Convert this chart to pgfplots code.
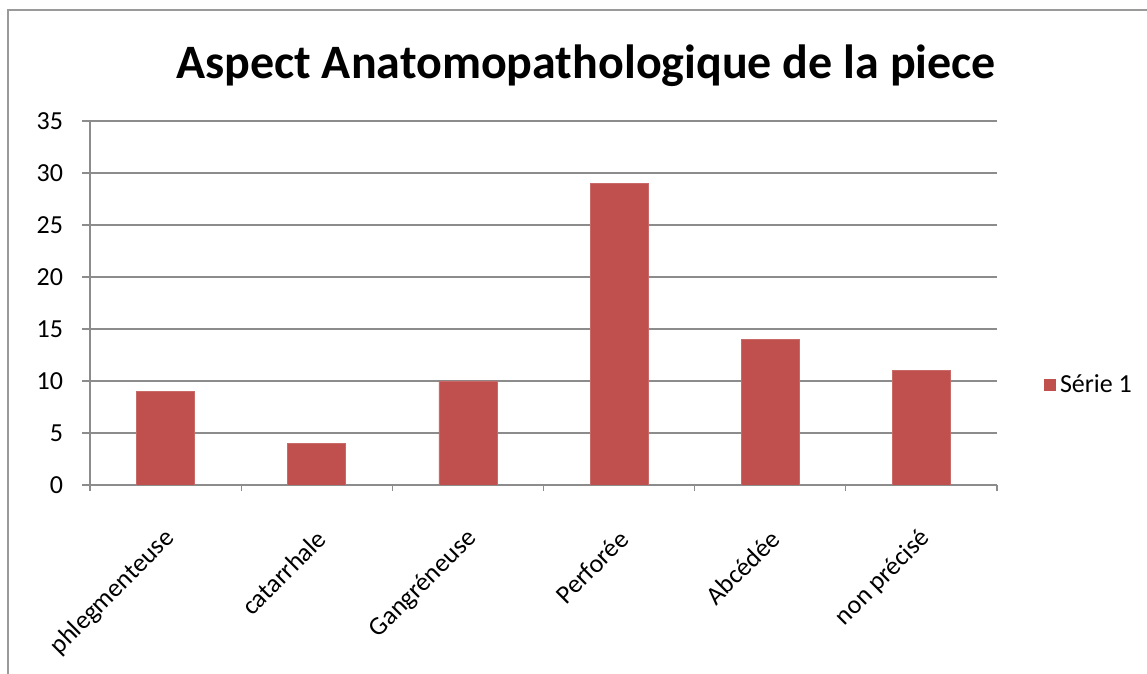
\documentclass[border=0pt]{standalone}
\usepackage{pgfplots}
\pgfplotsset{compat=1.18}
\usepackage{fontspec}
\setmainfont{Carlito}
\definecolor{barred}{HTML}{C0504D}
\definecolor{gridgray}{HTML}{8C8C8C}
\definecolor{framegray}{HTML}{9A9A9A}
\begin{document}
\begin{tikzpicture}[x=1pt,y=1pt]
% canvas 1147x674 px at 0.5pt per px
\path[use as bounding box] (0,0) rectangle (573.5,337);
\draw[framegray, line width=1pt] (4.2,0) -- (4.2,332) -- (573.5,332);
\node[anchor=base, font=\fontsize{24}{28}\selectfont\bfseries] at (293,297.5)
  {Aspect Anatomopathologique de la piece};
\begin{axis}[
    at={(45pt,94.5pt)}, anchor=south west,
    scale only axis, width=453.5pt, height=182pt,
    ybar, bar width=29pt, bar shift=0pt,
    xmin=-0.5, xmax=5.5, ymin=0, ymax=35,
    xtick={0,...,5},
    xticklabels={phlegmenteuse, catarrhale, Gangréneuse, Perforée, Abcédée, non précisé},
    minor xtick={-0.5,0.5,...,5.5},
    major x tick style={draw=none},
    minor tick length=3pt,
    ytick={0,5,...,35},
    major tick length=4pt,
    tick align=outside,
    tick style={gridgray, line width=0.6pt},
    axis x line*=bottom, axis y line*=left,
    axis line style={gridgray, line width=0.6pt, -},
    ymajorgrids, grid style={gridgray, line width=0.6pt},
    /pgf/number format/assume math mode=true,
    tick label style={font=\fontsize{13}{15}\selectfont},
    yticklabel style={xshift=-6pt},
    xticklabel style={rotate=45, anchor=east, xshift=-9.5pt, yshift=-16.5pt},
    legend style={at={(1.045,0.275)}, anchor=west, draw=none, fill=none,
      font=\fontsize{13}{15}\selectfont},
    legend image code/.code={\fill[barred] (0pt,-2.75pt) rectangle (5.5pt,2.75pt);},
]
\addplot[fill=barred, draw=barred!85!white] coordinates {(0,9) (1,4) (2,10) (3,29) (4,14) (5,11)};
\addlegendentry{Série 1}
\end{axis}
\end{tikzpicture}
\end{document}
